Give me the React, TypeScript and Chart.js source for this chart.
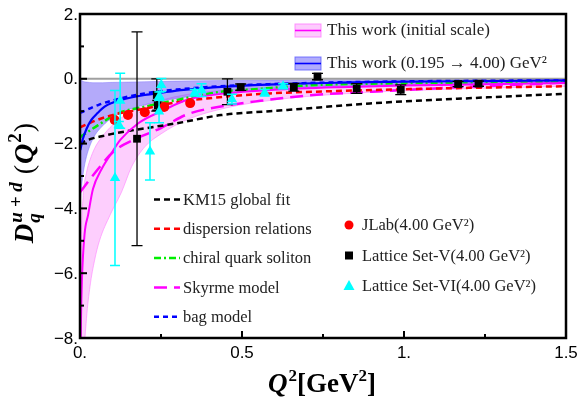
import React, { useEffect, useRef } from 'react';
import { Chart, registerables } from 'chart.js';
Chart.register(...registerables);

// ---------- data ----------
const pinkQ = [0.001, 0.004, 0.01, 0.02, 0.031, 0.045, 0.06, 0.093, 0.128, 0.16, 0.2, 0.25, 0.333, 0.45, 0.6, 0.8, 1.0, 1.25, 1.5];
const pinkLow = [-13, -11, -9.0, -7.4, -6.4, -5.6, -5.0, -4.2, -3.5, -2.7, -2.1, -1.7, -1.25, -0.9, -0.65, -0.47, -0.37, -0.29, -0.23];
const pinkHigh = [-7.5, -5.0, -3.6, -2.9, -2.5, -2.15, -1.9, -1.5, -1.2, -1.0, -0.82, -0.66, -0.48, -0.35, -0.26, -0.19, -0.15, -0.12, -0.1];

const blueQ = [0, 0.005, 0.01, 0.02, 0.04, 0.07, 0.1, 0.15, 0.2, 0.3, 0.45, 0.6, 0.8, 1.0, 1.25, 1.5];
const blueLow = [-3.9, -3.3, -2.9, -2.4, -1.85, -1.45, -1.2, -0.95, -0.8, -0.6, -0.42, -0.32, -0.24, -0.19, -0.15, -0.12];
const blueHigh = [0, -0.05, -0.08, -0.1, -0.12, -0.12, -0.11, -0.1, -0.09, -0.07, -0.05, -0.04, -0.03, -0.02, -0.02, -0.01];

const initQ = [0.001, 0.003, 0.006, 0.014, 0.025, 0.04, 0.066, 0.1, 0.125, 0.18, 0.26, 0.333, 0.45, 0.6, 0.8, 1.0, 1.25, 1.5];
const initD = [-9.5, -7.5, -6.2, -4.8, -4.2, -3.4, -2.8, -2.25, -1.88, -1.37, -0.96, -0.64, -0.45, -0.34, -0.26, -0.21, -0.17, -0.13];

const evolQ = [0.001, 0.009, 0.02, 0.035, 0.055, 0.076, 0.1, 0.127, 0.2, 0.25, 0.32, 0.45, 0.6, 0.8, 1.0, 1.25, 1.5];
const evolD = [-2.2, -1.85, -1.55, -1.27, -1.05, -0.86, -0.74, -0.65, -0.5, -0.43, -0.34, -0.24, -0.17, -0.12, -0.09, -0.07, -0.05];

const km15Q = [0, 0.01, 0.086, 0.2, 0.3, 0.435, 0.586, 0.68, 0.895, 1.2, 1.5];
const km15D = [-2.02, -1.95, -1.73, -1.53, -1.37, -1.12, -1.0, -0.93, -0.76, -0.6, -0.46];

const dispQ = [0, 0.05, 0.1, 0.2, 0.3, 0.45, 0.586, 0.75, 0.93, 1.2, 1.5];
const dispD = [-1.5, -1.28, -1.12, -0.92, -0.72, -0.55, -0.45, -0.39, -0.34, -0.28, -0.23];

const chiralQ = [0, 0.056, 0.117, 0.2, 0.3, 0.435, 0.54, 0.71, 0.9, 1.15, 1.5];
const chiralD = [-1.8, -1.43, -1.07, -0.86, -0.65, -0.4, -0.32, -0.2, -0.15, -0.12, -0.09];

const skyrmeQ = [0, 0.041, 0.103, 0.175, 0.25, 0.33, 0.45, 0.556, 0.72, 0.9, 1.15, 1.5];
const skyrmeD = [-3.5, -2.97, -2.25, -1.84, -1.52, -1.1, -0.83, -0.68, -0.5, -0.4, -0.27, -0.12];

const bagQ = [0, 0.056, 0.107, 0.2, 0.3, 0.45, 0.6, 0.8, 1.0, 1.25, 1.5];
const bagD = [-1.05, -0.81, -0.65, -0.45, -0.33, -0.22, -0.16, -0.11, -0.08, -0.06, -0.05];

const jlabQ = [0.107, 0.148, 0.2, 0.26, 0.34];
const jlabD = [-1.27, -1.12, -1.03, -0.87, -0.75];

const latVQ = [0.176, 0.237, 0.24, 0.455, 0.496, 0.66, 0.733, 0.854, 0.99, 1.167, 1.23];
const latVD = [-1.85, -0.5, -0.82, -0.4, -0.26, -0.26, 0.07, -0.3, -0.34, -0.16, -0.15];
const latVErr = [3.3, 0.5, 0.15, 0.4, 0.1, 0.12, 0.1, 0.15, 0.15, 0.08, 0.08];

const latVIQ = [0.108, 0.124, 0.12, 0.216, 0.244, 0.251, 0.245, 0.354, 0.375, 0.469, 0.57, 0.627];
const latVID = [-3.06, -0.68, -1.42, -2.24, -1.01, -0.19, -0.53, -0.43, -0.35, -0.63, -0.43, -0.23];
const latVIErr = [2.7, 0.85, 0.1, 0.88, 0.35, 0.2, 0.12, 0.1, 0.2, 0.15, 0.1, 0.08];

const yTickVals = [2, 1, 0, -1, -2, -3, -4, -5, -6, -7, -8];
const yTickLabels = ['2.', '', '0.', '', '\u22122.', '', '\u22124.', '', '\u22126.', '', '\u22128.'];
const xTickVals = [0, 0.25, 0.5, 0.75, 1.0, 1.25, 1.5];
const xTickLabels = ['0.', '', '0.5', '', '1.', '', '1.5'];

const legendTop = ['This work (initial scale)', 'This work (0.195 \u2192 4.00) GeV\u00B2'];
const legendLines = ['KM15 global fit', 'dispersion relations', 'chiral quark soliton', 'Skyrme model', 'bag model'];
const legendPoints = ['JLab(4.00 GeV\u00B2)', 'Lattice Set-V(4.00 GeV\u00B2)', 'Lattice Set-VI(4.00 GeV\u00B2)'];

// ---------- styles ----------
const SERIF = '"Liberation Serif", "Times New Roman", serif';
const SANS = '"Liberation Sans", Arial, sans-serif';
const C_KM = '#000000';
const C_DISP = '#ff0000';
const C_CHI = '#00ee00';
const C_SKY = '#ff00ff';
const C_BAG = '#0000ff';
const D_KM = [6, 4];
const D_DISP = [6, 4];
const D_CHI = [7, 3, 2, 3];
const D_SKY = [13, 7];
const D_BAG = [5, 4];

const pts = (xs: number[], ys: number[]) => xs.map((x, i) => ({ x, y: ys[i] }));

type Seg = { t: string; font: string; dy?: number; stack?: boolean; gap?: number };

function richWidth(ctx: CanvasRenderingContext2D, segs: Seg[]) {
  let w = 0;
  let pending = 0;
  for (const s of segs) {
    ctx.font = s.font;
    const m = ctx.measureText(s.t).width + (s.gap || 0);
    if (s.stack) {
      pending = m;
    } else {
      w += Math.max(m, pending);
      pending = 0;
    }
  }
  return w;
}

function drawRich(ctx: CanvasRenderingContext2D, segs: Seg[], x: number, y: number) {
  let cx = x;
  let pending = 0;
  for (const s of segs) {
    ctx.font = s.font;
    ctx.fillText(s.t, cx, y + (s.dy || 0));
    const m = ctx.measureText(s.t).width + (s.gap || 0);
    if (s.stack) {
      pending = m;
    } else {
      cx += Math.max(m, pending);
      pending = 0;
    }
  }
}

const decorPlugin = {
  id: 'decor',
  beforeDatasetDraw(chart: any, args: any) {
    const ds = chart.data.datasets[args.index];
    if (!ds.errors) return;
    const { ctx, chartArea } = chart;
    const xs = chart.scales.x;
    const ys = chart.scales.y;
    ctx.save();
    ctx.beginPath();
    ctx.rect(chartArea.left, chartArea.top, chartArea.right - chartArea.left, chartArea.bottom - chartArea.top);
    ctx.clip();
    ctx.strokeStyle = ds.errColor;
    ctx.lineWidth = ds.errWidth;
    ds.data.forEach((p: any, i: number) => {
      const e = ds.errors[i];
      const px = xs.getPixelForValue(p.x);
      const y1 = ys.getPixelForValue(p.y + e);
      const y2 = ys.getPixelForValue(p.y - e);
      const c = ds.capHalf;
      ctx.beginPath();
      ctx.moveTo(px, y1);
      ctx.lineTo(px, y2);
      ctx.moveTo(px - c, y1);
      ctx.lineTo(px + c, y1);
      ctx.moveTo(px - c, y2);
      ctx.lineTo(px + c, y2);
      ctx.stroke();
    });
    ctx.restore();
  },
  afterDraw(chart: any) {
    const { ctx, chartArea } = chart;
    const xs = chart.scales.x;
    const ys = chart.scales.y;
    const L = chartArea.left, R = chartArea.right, T = chartArea.top, B = chartArea.bottom;
    ctx.save();
    // frame
    ctx.strokeStyle = '#000';
    ctx.lineWidth = 2.5;
    ctx.setLineDash([]);
    ctx.strokeRect(L, T, R - L, B - T);
    // ticks
    ctx.lineWidth = 2;
    yTickVals.forEach((v, i) => {
      const py = ys.getPixelForValue(v);
      const len = yTickLabels[i] ? 7 : 4;
      ctx.beginPath();
      ctx.moveTo(L, py);
      ctx.lineTo(L + len, py);
      ctx.stroke();
    });
    xTickVals.forEach((v, i) => {
      const px = xs.getPixelForValue(v);
      const len = xTickLabels[i] ? 7 : 4;
      ctx.beginPath();
      ctx.moveTo(px, B);
      ctx.lineTo(px, B - len);
      ctx.stroke();
    });
    // tick labels
    ctx.fillStyle = '#000';
    ctx.font = `17px ${SANS}`;
    ctx.textAlign = 'right';
    ctx.textBaseline = 'middle';
    yTickVals.forEach((v, i) => {
      if (!yTickLabels[i]) return;
      ctx.fillText(yTickLabels[i], L - 2, ys.getPixelForValue(v) + 1);
    });
    ctx.textAlign = 'center';
    xTickVals.forEach((v, i) => {
      if (!xTickLabels[i]) return;
      ctx.fillText(xTickLabels[i], xs.getPixelForValue(v), B + 15);
    });

    // axis titles
    ctx.textAlign = 'left';
    ctx.textBaseline = 'alphabetic';
    const bi = (s: number) => `italic bold ${s}px ${SERIF}`;
    const b = (s: number) => `bold ${s}px ${SERIF}`;
    const xt: Seg[] = [
      { t: 'Q', font: bi(27), gap: 1 },
      { t: '2', font: b(17), dy: -11 },
      { t: '[GeV', font: b(27) },
      { t: '2', font: b(17), dy: -11 },
      { t: ']', font: b(27) },
    ];
    const xw = richWidth(ctx, xt);
    drawRich(ctx, xt, 322 - xw / 2, 392);

    const yt: Seg[] = [
      { t: 'D', font: bi(27), gap: 1 },
      { t: 'q', font: bi(19), dy: 7, stack: true },
      { t: 'u + d', font: bi(19), dy: -11, gap: 8 },
      { t: '(', font: `28px ${SERIF}`, gap: 1 },
      { t: 'Q', font: bi(28), gap: 1 },
      { t: '2', font: b(19), dy: -12, gap: 1 },
      { t: ')', font: `28px ${SERIF}` },
    ];
    const yw = richWidth(ctx, yt);
    ctx.save();
    ctx.translate(33, 183);
    ctx.rotate(-Math.PI / 2);
    drawRich(ctx, yt, -yw / 2, 0);
    ctx.restore();

    // top legend
    ctx.font = `17px ${SERIF}`;
    ctx.fillStyle = '#222';
    ctx.textBaseline = 'middle';
    const boxes = [
      { y: 24, fill: 'rgba(250,110,250,0.35)', edge: 'rgba(255,120,255,0.8)', line: '#ff00ff' },
      { y: 57, fill: 'rgba(100,90,250,0.5)', edge: 'rgba(90,90,255,0.8)', line: '#0000ff' },
    ];
    boxes.forEach((bx, i) => {
      ctx.fillStyle = bx.fill;
      ctx.fillRect(295, bx.y, 26, 13);
      ctx.strokeStyle = bx.edge;
      ctx.lineWidth = 1;
      ctx.strokeRect(295, bx.y, 26, 13);
      ctx.strokeStyle = bx.line;
      ctx.lineWidth = 1.6;
      ctx.beginPath();
      ctx.moveTo(295, bx.y + 6.5);
      ctx.lineTo(321, bx.y + 6.5);
      ctx.stroke();
      ctx.fillStyle = '#222';
      ctx.fillText(legendTop[i], 327, bx.y + 7);
    });

    // lines legend
    const lineStyles = [
      { c: C_KM, d: D_KM },
      { c: C_DISP, d: D_DISP },
      { c: C_CHI, d: D_CHI },
      { c: C_SKY, d: D_SKY },
      { c: C_BAG, d: D_BAG },
    ];
    ctx.font = `16.5px ${SERIF}`;
    legendLines.forEach((txt, i) => {
      const y = 199.5 + i * 29.3;
      ctx.strokeStyle = lineStyles[i].c;
      ctx.lineWidth = 2.5;
      ctx.setLineDash(lineStyles[i].d);
      ctx.beginPath();
      ctx.moveTo(154, y);
      ctx.lineTo(180, y);
      ctx.stroke();
      ctx.setLineDash([]);
      ctx.fillStyle = '#222';
      ctx.fillText(txt, 183, y + 1);
    });

    // points legend
    legendPoints.forEach((txt, i) => {
      const y = 225 + i * 30.5;
      const x = 349;
      if (i === 0) {
        ctx.fillStyle = '#ff0000';
        ctx.beginPath();
        ctx.arc(x, y, 4.5, 0, Math.PI * 2);
        ctx.fill();
      } else if (i === 1) {
        ctx.fillStyle = '#000';
        ctx.fillRect(x - 4, y - 4, 8, 8);
      } else {
        ctx.fillStyle = '#00ffff';
        ctx.beginPath();
        ctx.moveTo(x, y - 6);
        ctx.lineTo(x + 5.5, y + 4);
        ctx.lineTo(x - 5.5, y + 4);
        ctx.closePath();
        ctx.fill();
      }
      ctx.fillStyle = '#222';
      ctx.fillText(txt, 362, y + 1);
    });
    ctx.restore();
  },
};

export default function App() {
  const ref = useRef<HTMLCanvasElement>(null);
  useEffect(() => {
    if (!ref.current) return;
    const lineDs = (label: string, xs: number[], ys: number[], color: string, dash: number[], width: number) => ({
      label,
      data: pts(xs, ys),
      showLine: true,
      borderColor: color,
      borderWidth: width,
      borderDash: dash,
      pointRadius: 0,
      fill: false,
      cubicInterpolationMode: 'monotone',
      order: 2,
    });
    const chart = new Chart(ref.current, {
      type: 'scatter',
      data: {
        datasets: [
          {
            label: 'pinkLow', data: pts(pinkQ, pinkLow), showLine: true, pointRadius: 0,
            borderColor: 'rgba(255,130,255,0.6)', borderWidth: 1, backgroundColor: 'rgba(250,110,250,0.34)',
            fill: { target: 1 }, cubicInterpolationMode: 'monotone', order: 6,
          },
          {
            label: 'pinkHigh', data: pts(pinkQ, pinkHigh), showLine: true, pointRadius: 0,
            borderColor: 'rgba(255,130,255,0.6)', borderWidth: 1, fill: false, cubicInterpolationMode: 'monotone', order: 6,
          },
          {
            label: 'blueLow', data: pts(blueQ, blueLow), showLine: true, pointRadius: 0,
            borderColor: 'rgba(120,110,255,0.5)', borderWidth: 1, backgroundColor: 'rgba(105,85,245,0.5)',
            fill: { target: 3 }, cubicInterpolationMode: 'monotone', order: 5,
          },
          {
            label: 'blueHigh', data: pts(blueQ, blueHigh), showLine: true, pointRadius: 0,
            borderColor: 'rgba(150,140,255,0.5)', borderWidth: 1, fill: false, cubicInterpolationMode: 'monotone', order: 5,
          },
          {
            label: 'zero', data: pts([0, 1.5], [0, 0]), showLine: true, pointRadius: 0,
            borderColor: '#a0a0a0', borderWidth: 2, fill: false, order: 4,
          },
          lineDs('This work (initial scale)', initQ, initD, '#ff00ff', [], 2),
          lineDs('This work evolved', evolQ, evolD, '#0000ff', [], 2.2),
          lineDs('KM15 global fit', km15Q, km15D, C_KM, D_KM, 2.5),
          lineDs('dispersion relations', dispQ, dispD, C_DISP, D_DISP, 2.5),
          lineDs('chiral quark soliton', chiralQ, chiralD, C_CHI, D_CHI, 2.5),
          lineDs('Skyrme model', skyrmeQ, skyrmeD, C_SKY, D_SKY, 2.5),
          lineDs('bag model', bagQ, bagD, C_BAG, D_BAG, 2.5),
          {
            label: 'JLab', data: pts(jlabQ, jlabD), pointStyle: 'circle', pointRadius: 5,
            backgroundColor: '#ff0000', borderWidth: 0, order: 1,
          },
          {
            label: 'Lattice Set-V', data: pts(latVQ, latVD), pointStyle: 'rect', pointRadius: 5.5,
            backgroundColor: '#000000', borderWidth: 0, order: 1,
            errors: latVErr, errColor: '#000000', errWidth: 1.3, capHalf: 5.5,
          } as any,
          {
            label: 'Lattice Set-VI', data: pts(latVIQ, latVID), pointStyle: 'triangle', pointRadius: 6,
            backgroundColor: '#00ffff', borderWidth: 0, order: 0,
            errors: latVIErr, errColor: '#00ffff', errWidth: 1.5, capHalf: 5,
          } as any,
        ] as any,
      },
      options: {
        animation: false,
        responsive: false,
        devicePixelRatio: 1,
        layout: { padding: { left: 80, right: 13, top: 14, bottom: 66 } },
        scales: {
          x: { type: 'linear', min: 0, max: 1.5, display: false },
          y: { type: 'linear', min: -8, max: 2, display: false },
        },
        plugins: {
          legend: { display: false },
          tooltip: { enabled: false },
        },
      },
      plugins: [decorPlugin],
    } as any);
    return () => chart.destroy();
  }, []);
  return (
    <div style={{ position: 'fixed', left: 0, top: 0, width: 579, height: 404, background: '#fff' }}>
      <canvas ref={ref} width={579} height={404} style={{ display: 'block', width: 579, height: 404 }} />
    </div>
  );
}
